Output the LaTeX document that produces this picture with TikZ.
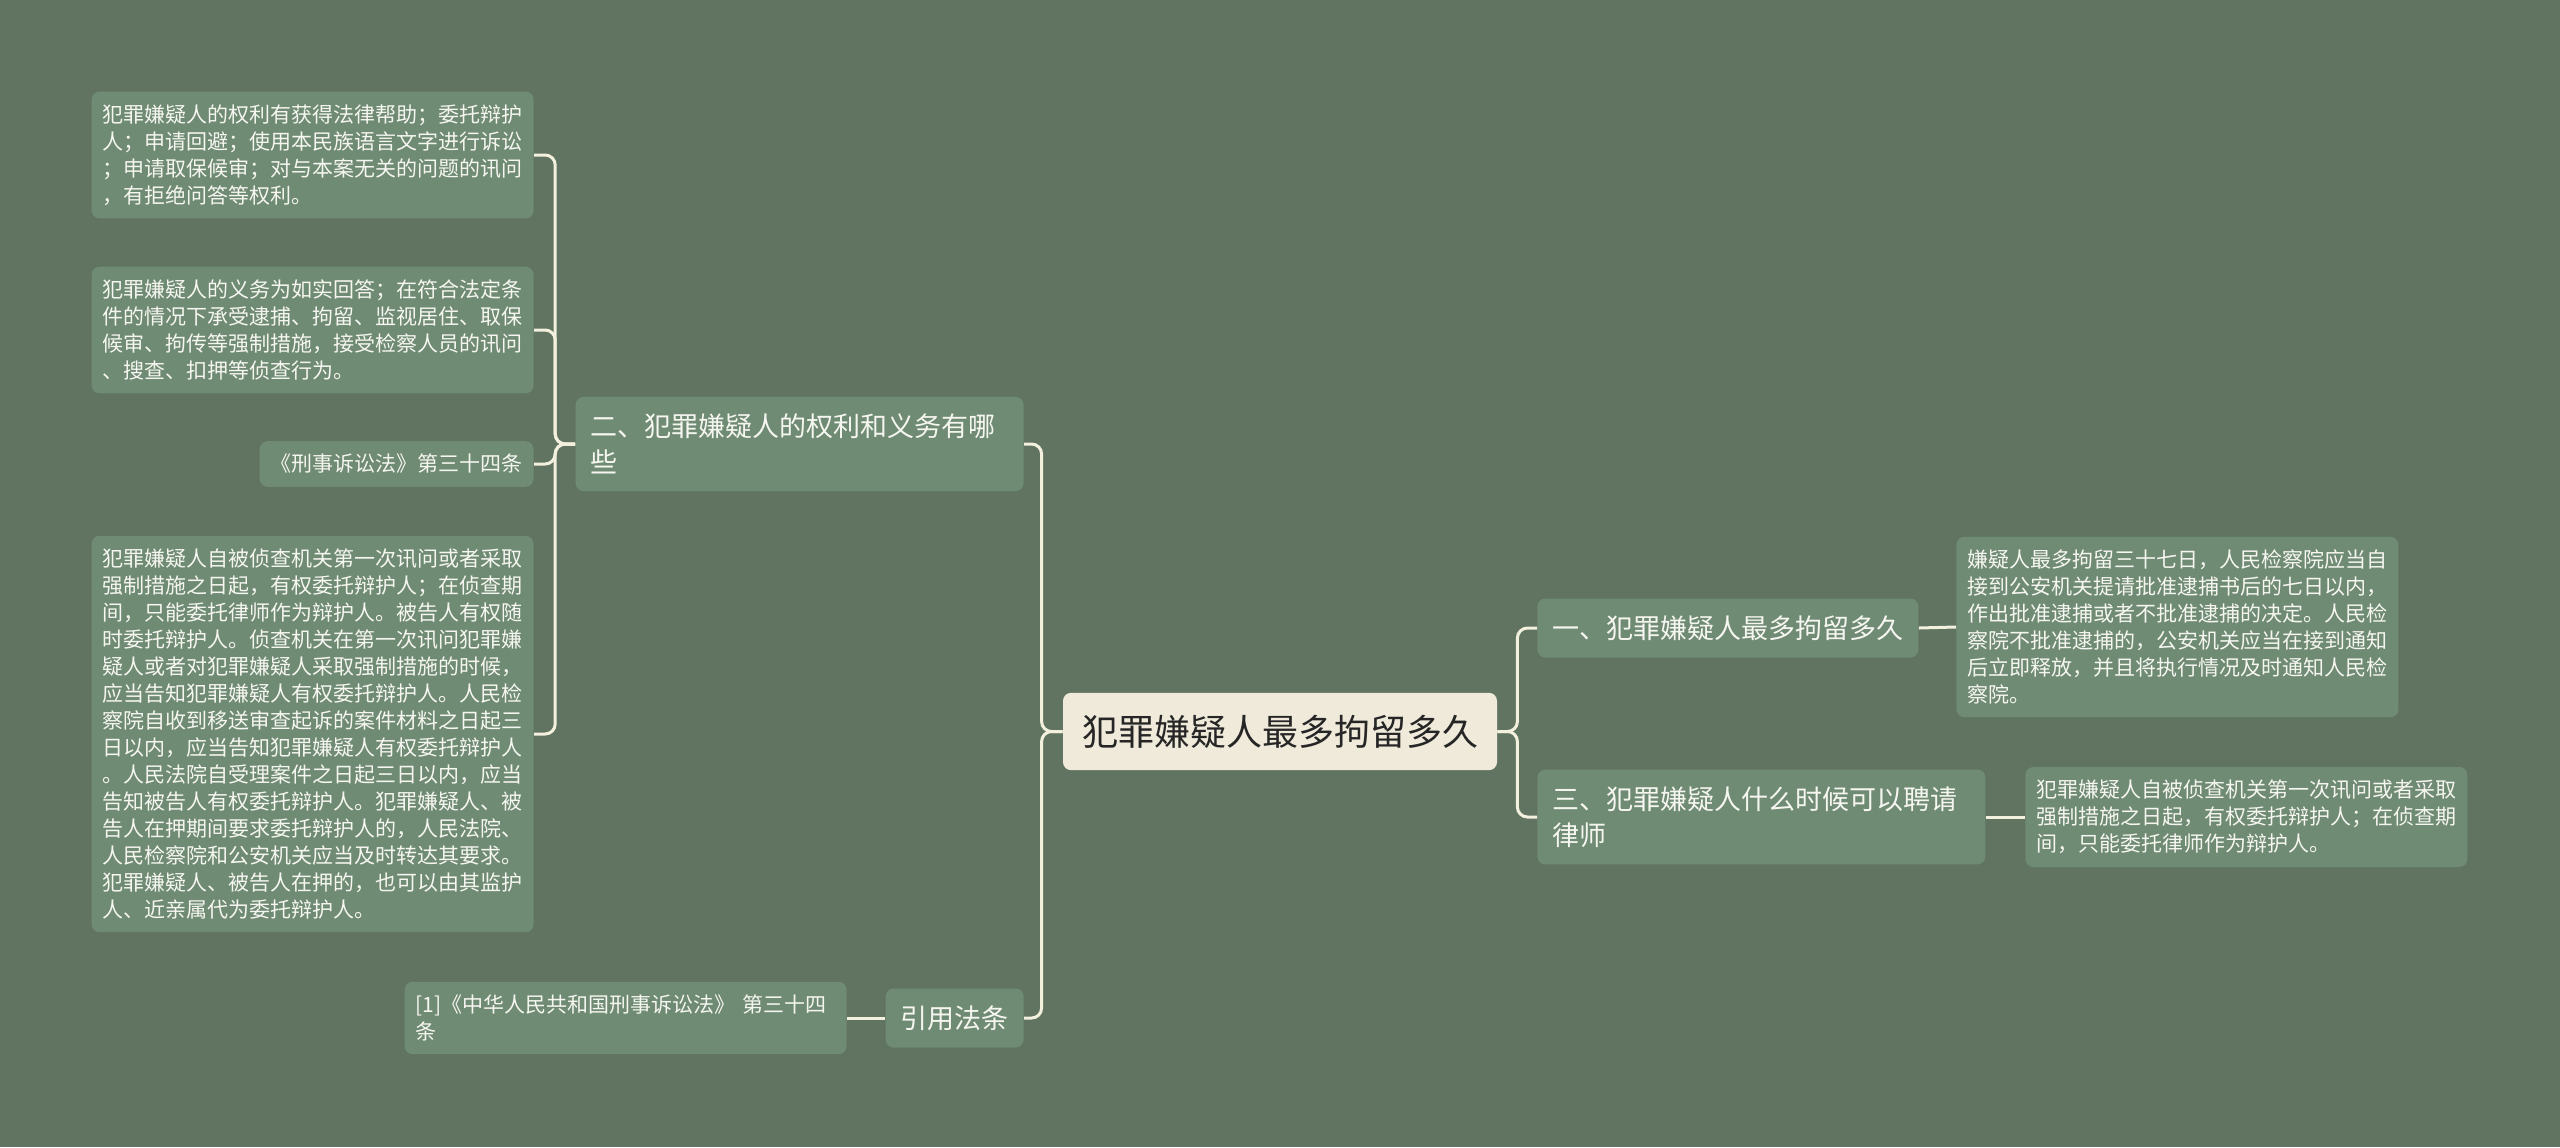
\documentclass[tikz,border=0pt]{standalone}
\usepackage{fontspec}
\setmainfont{Noto Sans CJK SC}
\definecolor{bgcol}{HTML}{617462}
\definecolor{boxcol}{HTML}{6F8B74}
\definecolor{rootcol}{HTML}{EFEADA}
\definecolor{linecol}{HTML}{F4F0DE}
\definecolor{txtcol}{HTML}{F6F6F0}
\begin{document}
\begin{tikzpicture}[x=0.5pt,y=-0.5pt,
    rootbox/.style={fill=rootcol, rounded corners=4pt, text=black!85,
        inner xsep=9.5pt, inner ysep=11pt, font=\fontsize{18pt}{22pt}\selectfont},
    branch/.style={fill=boxcol, rounded corners=4pt, text=txtcol, align=left,
        inner xsep=7.5pt, inner ysep=8.5pt, font=\fontsize{13.5pt}{18pt}\selectfont},
    leaf/.style={fill=boxcol, rounded corners=4pt, text=txtcol, align=left,
        inner xsep=5.5pt, inner ysep=6.5pt, font=\fontsize{10.5pt}{13.5pt}\selectfont},
    link/.style={draw=linecol, line width=1.5pt, rounded corners=5pt}]

    \fill[bgcol] (0,0) rectangle (2560,1147);

    % centre
    \node[rootbox] (root) at (1280,731.5) {犯罪嫌疑人最多拘留多久};

    % branches
    \node[branch, anchor=east, text width=209pt] (er) at (1024,444)
        {二、犯罪嫌疑人的权利和义务有哪\\些};
    \node[branch, anchor=east] (yinyong) at (1024,1018) {引用法条};
    \node[branch, anchor=west] (yi) at (1537,628) {一、犯罪嫌疑人最多拘留多久};
    \node[branch, anchor=west, text width=209pt] (san) at (1537,817)
        {三、犯罪嫌疑人什么时候可以聘请\\律师};

    % leaves, left
    \node[leaf, anchor=east, text width=210pt] (quanli) at (534,155)
        {犯罪嫌疑人的权利有获得法律帮助；委托辩护\\
         人；申请回避；使用本民族语言文字进行诉讼\\
         ；申请取保候审；对与本案无关的问题的讯问\\
         ，有拒绝问答等权利。};
    \node[leaf, anchor=east, text width=210pt] (yiwu) at (534,330)
        {犯罪嫌疑人的义务为如实回答；在符合法定条\\
         件的情况下承受逮捕、拘留、监视居住、取保\\
         候审、拘传等强制措施，接受检察人员的讯问\\
         、搜查、扣押等侦查行为。};
    \node[leaf, anchor=east] (tiao) at (534,464) {《刑事诉讼法》第三十四条};
    \node[leaf, anchor=east, text width=210pt] (bianhu) at (534,734)
        {犯罪嫌疑人自被侦查机关第一次讯问或者采取\\
         强制措施之日起，有权委托辩护人；在侦查期\\
         间，只能委托律师作为辩护人。被告人有权随\\
         时委托辩护人。侦查机关在第一次讯问犯罪嫌\\
         疑人或者对犯罪嫌疑人采取强制措施的时候，\\
         应当告知犯罪嫌疑人有权委托辩护人。人民检\\
         察院自收到移送审查起诉的案件材料之日起三\\
         日以内，应当告知犯罪嫌疑人有权委托辩护人\\
         。人民法院自受理案件之日起三日以内，应当\\
         告知被告人有权委托辩护人。犯罪嫌疑人、被\\
         告人在押期间要求委托辩护人的，人民法院、\\
         人民检察院和公安机关应当及时转达其要求。\\
         犯罪嫌疑人、被告人在押的，也可以由其监护\\
         人、近亲属代为委托辩护人。};
    \node[leaf, anchor=east, text width=210pt] (fatiao) at (847,1018)
        {[1]《中华人民共和国刑事诉讼法》 第三十四\\条};

    % leaves, right
    \node[leaf, anchor=west, text width=210pt] (juliu) at (1956,627)
        {嫌疑人最多拘留三十七日，人民检察院应当自\\
         接到公安机关提请批准逮捕书后的七日以内，\\
         作出批准逮捕或者不批准逮捕的决定。人民检\\
         察院不批准逮捕的，公安机关应当在接到通知\\
         后立即释放，并且将执行情况及时通知人民检\\
         察院。};
    \node[leaf, anchor=west, text width=210pt] (pinqing) at (2025,817)
        {犯罪嫌疑人自被侦查机关第一次讯问或者采取\\
         强制措施之日起，有权委托辩护人；在侦查期\\
         间，只能委托律师作为辩护人。};

    % connectors
    \foreach \b in {er, yinyong}
        \draw[link] (root.west) -- ++(-21,0) |- (\b.east);
    \foreach \b in {yi, san}
        \draw[link] (root.east) -- ++(20,0) |- (\b.west);
    \foreach \l in {quanli, yiwu, tiao, bianhu}
        \draw[link] (er.west) -- ++(-20,0) |- (\l.east);
    \draw[link] (yinyong.west) -- (fatiao.east);
    \draw[link] (yi.east) -- (juliu.west);
    \draw[link] (san.east) -- (pinqing.west);
\end{tikzpicture}
\end{document}
